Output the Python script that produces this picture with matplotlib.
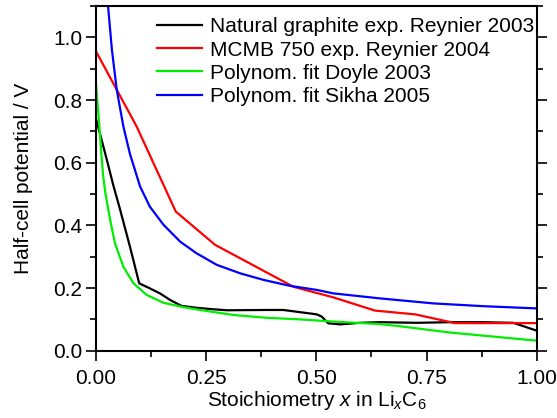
import matplotlib
matplotlib.use("Agg")
import matplotlib.pyplot as plt
from matplotlib.ticker import MultipleLocator, FormatStrFormatter

plt.rcParams['font.family'] = ['Liberation Sans', 'DejaVu Sans']
plt.rcParams['mathtext.fontset'] = 'custom'
plt.rcParams['mathtext.rm'] = 'Liberation Sans'
plt.rcParams['mathtext.it'] = 'Liberation Sans:italic'

# Natural graphite, Reynier 2003
x_nat = [0.0, 0.0166, 0.028, 0.039, 0.0545, 0.077, 0.098, 0.122, 0.145, 0.168,
         0.194, 0.228, 0.259, 0.297, 0.387, 0.425, 0.463, 0.501, 0.512, 0.527,
         0.554, 0.599, 0.644, 0.728, 0.803, 0.879, 0.947, 1.0]
v_nat = [0.74, 0.652, 0.59, 0.529, 0.451, 0.332, 0.215, 0.199, 0.183, 0.162,
         0.143, 0.137, 0.133, 0.129, 0.130, 0.130, 0.123, 0.116, 0.109, 0.0875,
         0.084, 0.089, 0.091, 0.089, 0.091, 0.091, 0.089, 0.064]

# MCMB 750, Reynier 2004
x_mcmb = [0.0, 0.092, 0.181, 0.27, 0.448, 0.539, 0.633, 0.724, 0.815, 1.0]
v_mcmb = [0.955, 0.716, 0.444, 0.338, 0.204, 0.17, 0.128, 0.116, 0.088, 0.088]

# Polynomial fit, Doyle 2003
x_doyle = [0.0, 0.004, 0.008, 0.012, 0.016, 0.021, 0.032, 0.043, 0.062, 0.085,
           0.115, 0.153, 0.198, 0.259, 0.312, 0.387, 0.463, 0.538, 0.644, 0.69,
           0.803, 0.917, 1.0]
v_doyle = [0.85, 0.78, 0.71, 0.63, 0.56, 0.505, 0.418, 0.343, 0.268, 0.215,
           0.178, 0.153, 0.139, 0.125, 0.114, 0.105, 0.100, 0.093, 0.085, 0.078,
           0.058, 0.043, 0.032]

# Polynomial fit, Sikha 2005
x_sikha = [0.018, 0.026, 0.036, 0.047, 0.062, 0.077, 0.1, 0.122, 0.153, 0.191,
           0.228, 0.274, 0.327, 0.38, 0.44, 0.501, 0.538, 0.644, 0.765, 0.88, 1.0]
v_sikha = [1.25, 1.12, 0.961, 0.833, 0.716, 0.628, 0.524, 0.46, 0.402, 0.348,
           0.311, 0.274, 0.247, 0.226, 0.207, 0.194, 0.183, 0.167, 0.151, 0.142, 0.135]

fs = 15
fig = plt.figure(figsize=(5.57, 4.18), dpi=100)
ax = fig.add_axes([0.1724, 0.161, 0.7911, 0.8246])

lw = 1.6
ax.plot(x_nat, v_nat, color='black', lw=lw, label='Natural graphite exp. Reynier 2003')
ax.plot(x_mcmb, v_mcmb, color='#ff0000', lw=lw, label='MCMB 750 exp. Reynier 2004')
ax.plot(x_doyle, v_doyle, color='#00ee00', lw=lw, label='Polynom. fit Doyle 2003')
ax.plot(x_sikha, v_sikha, color='#0000ff', lw=lw, label='Polynom. fit Sikha 2005')

ax.set_xlim(0, 1)
ax.set_ylim(0, 1.1)
ax.xaxis.set_major_locator(MultipleLocator(0.25))
ax.xaxis.set_minor_locator(MultipleLocator(0.125))
ax.yaxis.set_major_locator(MultipleLocator(0.2))
ax.yaxis.set_minor_locator(MultipleLocator(0.1))
ax.xaxis.set_major_formatter(FormatStrFormatter('%.2f'))
ax.yaxis.set_major_formatter(FormatStrFormatter('%.1f'))

for s in ax.spines.values():
    s.set_linewidth(1.5)
ax.tick_params(which='both', direction='out', width=1.2, labelsize=fs,
               right=True, top=False)
ax.tick_params(which='major', length=7)
ax.tick_params(which='minor', length=4)
ax.tick_params(axis='x', which='major', pad=6)
ax.tick_params(axis='y', which='major', pad=3)

ax.set_xlabel('Stoichiometry $\\it{x}$ in Li$_{\\it{x}}$C$_6$', fontsize=fs, labelpad=1)
ax.set_ylabel('Half-cell potential / V', fontsize=fs)
ax.yaxis.set_label_coords(-0.143, 0.5)

ax.legend(loc='upper right', bbox_to_anchor=(1.008, 0.985), frameon=False,
          fontsize=fs, handlelength=2.16, handletextpad=0.38, labelspacing=0.2,
          borderaxespad=0.1, borderpad=0.2)

fig.savefig('out.png', dpi=100)
